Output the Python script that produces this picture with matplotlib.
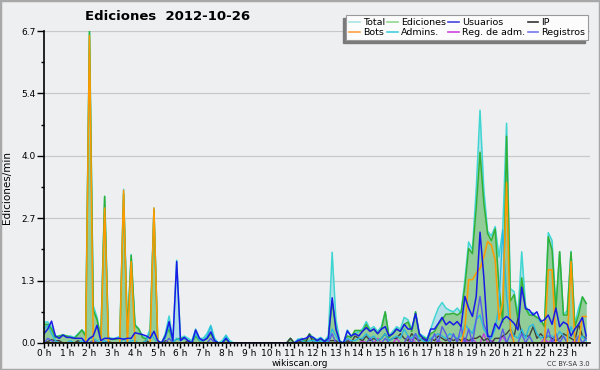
import numpy as np
import matplotlib
matplotlib.use("Agg")
import matplotlib.pyplot as plt
from matplotlib.lines import Line2D
from matplotlib.patches import Rectangle

# edits/min every 10 minutes, 6 values per hour (0 h .. 23 h)
total = [
    0.45, 0.45, 0.35, 0.15, 0.15, 0.18,   0.15, 0.15, 0.12, 0.2, 0.28, 0.2,
    6.7, 0.8, 0.55, 0.12, 3.15, 0.12,     0.1, 0.1, 0.15, 3.3, 0.25, 1.9,
    0.4, 0.3, 0.15, 0.1, 0.3, 2.9,        0.05, 0.0, 0.2, 0.58, 0.05, 1.78,
    0.1, 0.15, 0.1, 0.05, 0.3, 0.1,       0.1, 0.2, 0.38, 0.1, 0.0, 0.05,
    0.17, 0.05, 0, 0, 0, 0,               0, 0, 0, 0, 0, 0,
    0, 0, 0, 0, 0, 0.1,                   0, 0.08, 0.1, 0.05, 0.2, 0.12,
    0.08, 0.12, 0.05, 0.15, 1.95, 0.5,    0.05, 0.0, 0.28, 0.15, 0.2, 0.25,
    0.3, 0.46, 0.3, 0.35, 0.25, 0.35,     0.67, 0.15, 0.25, 0.35, 0.3, 0.55,
    0.5, 0.3, 0.67, 0.2, 0.15, 0.1,       0.3, 0.54, 0.75, 0.87, 0.75, 0.7,
    0.67, 0.75, 0.64, 1.35, 2.17, 2.0,    3.3, 5.0, 3.3, 2.4, 2.3, 2.5,
    1.85, 2.45, 4.72, 1.17, 1.1, 0.6,     1.96, 0.8, 0.65, 0.65, 0.55, 0.45,
    0.4, 2.37, 2.2, 0.75, 1.96, 0.6,      0.7, 1.97, 0.4, 0.75, 0.99, 0.85]

ediciones = [
    0.4, 0.4, 0.3, 0.12, 0.15, 0.17,      0.15, 0.12, 0.1, 0.18, 0.28, 0.15,
    6.7, 0.7, 0.5, 0.1, 3.15, 0.1,        0.08, 0.08, 0.1, 3.2, 0.2, 1.88,
    0.38, 0.3, 0.12, 0.08, 0.2, 2.85,     0.02, 0.0, 0.15, 0.3, 0.02, 0.08,
    0.1, 0.1, 0.05, 0.0, 0.15, 0.05,      0.05, 0.1, 0.2, 0.05, 0.0, 0.0,
    0.08, 0, 0, 0, 0, 0,                  0, 0, 0, 0, 0, 0,
    0, 0, 0, 0, 0, 0.1,                   0, 0.03, 0.08, 0.05, 0.19, 0.08,
    0.05, 0.08, 0.03, 0.1, 0.9, 0.3,      0.03, 0.0, 0.15, 0.12, 0.27, 0.27,
    0.25, 0.4, 0.25, 0.3, 0.2, 0.3,       0.67, 0.12, 0.2, 0.3, 0.25, 0.4,
    0.45, 0.25, 0.67, 0.15, 0.12, 0.08,   0.2, 0.25, 0.4, 0.5, 0.62, 0.62,
    0.64, 0.6, 0.66, 1.21, 2.03, 1.92,    2.9, 4.1, 3.0, 2.35, 2.2, 2.45,
    1.2, 0.45, 4.44, 0.9, 1.04, 0.5,      1.4, 0.75, 0.6, 0.6, 0.55, 0.5,
    0.35, 2.28, 2.0, 0.7, 1.96, 0.6,      0.6, 1.95, 0.35, 0.6, 0.99, 0.85]

usuarios = [
    0.2, 0.3, 0.47, 0.15, 0.1, 0.17,      0.12, 0.12, 0.1, 0.1, 0.1, 0.0,
    0.1, 0.15, 0.38, 0.05, 0.1, 0.1,      0.08, 0.1, 0.1, 0.08, 0.1, 0.1,
    0.22, 0.2, 0.18, 0.15, 0.1, 0.25,     0.05, 0.0, 0.15, 0.46, 0.05, 1.75,
    0.05, 0.12, 0.05, 0.0, 0.28, 0.1,     0.05, 0.1, 0.24, 0.05, 0.0, 0.0,
    0.1, 0, 0, 0, 0, 0,                   0, 0, 0, 0, 0, 0,
    0, 0, 0, 0, 0, 0,                     0, 0.05, 0.08, 0.1, 0.15, 0.12,
    0.05, 0.1, 0.03, 0.1, 0.97, 0.3,      0.03, 0.0, 0.26, 0.15, 0.2, 0.15,
    0.25, 0.33, 0.25, 0.3, 0.2, 0.3,      0.35, 0.15, 0.2, 0.3, 0.25, 0.4,
    0.3, 0.3, 0.63, 0.2, 0.1, 0.05,       0.3, 0.3, 0.42, 0.55, 0.39, 0.46,
    0.39, 0.46, 0.35, 1.0, 0.75, 0.57,    1.0, 2.38, 1.42, 0.14, 0.14, 0.42,
    0.3, 0.5, 0.57, 0.5, 0.42, 0.28,      1.2, 0.74, 0.71, 0.6, 0.67, 0.46,
    0.5, 0.6, 0.4, 0.75, 0.35, 0.45,      0.4, 0.15, 0.3, 0.4, 0.55, 0.15]

ip = [
    0.0, 0.03, 0.07, 0.05, 0.05, 0.0,     0.0, 0.0, 0.0, 0.05, 0.0, 0.0,
    0.0, 0.05, 0.0, 0.0, 0.0, 0.03,       0.0, 0.0, 0.0, 0.0, 0.0, 0.0,
    0.0, 0.0, 0.0, 0.05, 0.0, 0.0,        0.0, 0.0, 0.05, 0.0, 0.0, 0.0,
    0.0, 0.0, 0.05, 0.0, 0.0, 0.0,        0.0, 0.0, 0.0, 0.0, 0.0, 0.0,
    0, 0, 0, 0, 0, 0,                     0, 0, 0, 0, 0, 0,
    0, 0, 0, 0, 0, 0.1,                   0, 0.0, 0.05, 0.0, 0.19, 0.0,
    0.05, 0.0, 0.0, 0.05, 0.05, 0.05,     0.0, 0.0, 0.05, 0.0, 0.15, 0.1,
    0.05, 0.15, 0.05, 0.1, 0.05, 0.1,     0.2, 0.05, 0.1, 0.1, 0.2, 0.1,
    0.05, 0.2, 0.1, 0.05, 0.1, 0.0,       0.1, 0.05, 0.15, 0.1, 0.05, 0.1,
    0.05, 0.1, 0.05, 0.1, 0.05, 0.1,      0.1, 0.15, 0.05, 0.1, 0.0, 0.1,
    0.1, 0.15, 0.2, 0.3, 0.15, 0.53,      0.2, 0.15, 0.15, 0.35, 0.1, 0.2,
    0.1, 0.15, 0.1, 0.05, 0.1, 0.2,       0.15, 0.1, 0.05, 0.4, 0.15, 0.1]

bots = [0.0] * 144
bot_spikes = {12: 6.6, 16: 2.9, 21: 3.28, 23: 1.75, 29: 2.9,
              111: 0.3, 112: 1.36, 113: 1.36, 114: 1.5, 115: 1.6, 116: 1.85,
              117: 2.18, 118: 2.1, 119: 1.78, 120: 0.5, 121: 0.85, 122: 3.45,
              123: 0.3, 133: 1.57, 134: 1.57, 139: 1.75, 142: 0.57, 143: 0.57}
for k, v in bot_spikes.items():
    bots[k] = v

admins = [
    0.3, 0.38, 0.2, 0.05, 0.0, 0.0,       0.0, 0.05, 0.0, 0.0, 0.05, 0.0,
    0.1, 0.1, 0.05, 0.0, 0.05, 0.0,       0, 0, 0, 0.1, 0, 0.05,
    0.05, 0, 0, 0.05, 0.25, 0.1,          0, 0, 0.1, 0.4, 0, 0.1,
    0.05, 0.1, 0.05, 0, 0.2, 0.05,        0.05, 0.15, 0.35, 0.05, 0, 0,
    0.15, 0, 0, 0, 0, 0,                  0, 0, 0, 0, 0, 0,
    0, 0, 0, 0, 0, 0,                     0, 0.08, 0.05, 0, 0.05, 0.05,
    0.03, 0.05, 0, 0.05, 0.3, 0.15,       0, 0, 0.1, 0.05, 0.05, 0.1,
    0.1, 0.2, 0.1, 0.15, 0.05, 0.1,       0.2, 0.05, 0.1, 0.15, 0.1, 0.3,
    0.15, 0.1, 0.2, 0.1, 0.05, 0,         0.1, 0.15, 0.2, 0.15, 0.1, 0.2,
    0.15, 0.1, 0.15, 0.4, 0.3, 0.2,       0.5, 0.6, 0.3, 0.15, 0.1, 0.3,
    0.8, 2.43, 1.0, 0.3, 0.15, 0.1,       0.3, 0.1, 0.35, 0.4, 0.2, 0.1,
    0.15, 0.15, 0.15, 0.1, 0.25, 0.15,    0.05, 0.35, 0.1, 0.05, 0.15, 0.05]

reg_adm = [0.0] * 144
for k, v in {80: 0.1, 84: 0.05, 88: 0.1, 93: 0.1, 97: 0.1, 104: 0.05,
             111: 0.08, 113: 0.1, 116: 0.2, 118: 0.05, 121: 0.15,
             132: 0.1, 134: 0.08, 140: 0.05}.items():
    reg_adm[k] = v

registros = [0.0] * 144
for k, v in {1: 0.1, 2: 0.05, 13: 0.05, 33: 0.1, 44: 0.1, 76: 0.2, 86: 0.1,
             90: 0.1, 96: 0.15, 98: 0.2, 103: 0.2, 105: 0.35, 106: 0.2,
             108: 0.2, 110: 0.35, 112: 0.3, 114: 0.5, 115: 1.0, 116: 0.4,
             117: 0.2, 121: 0.3, 123: 0.2, 126: 0.2, 128: 0.15, 133: 0.3,
             135: 0.2, 137: 0.15, 141: 0.15, 143: 0.1}.items():
    registros[k] = v

hours = np.arange(144) / 6.0
bg = "#eeeff1"

fig = plt.figure(figsize=(6, 3.7), dpi=100, facecolor=bg)
fig.patches.append(Rectangle((0, 0), 1, 1, transform=fig.transFigure,
                             fill=False, edgecolor="#a8a8a8", linewidth=2.5))
ax = fig.add_axes([0.0733, 0.073, 0.91, 0.843], facecolor=bg)

ax.fill_between(hours, total, color="#a6dbe6", alpha=0.8, lw=0)
ax.plot(hours, total, color="#3fd6d2", lw=1.1)
ax.fill_between(hours, ediciones, color="#8fca8f", alpha=0.9, lw=0)
ax.plot(hours, ediciones, color="#33b033", lw=1.1)
ax.plot(hours, reg_adm, color="#c040e0", lw=1.0)
ax.plot(hours, ip, color="#404040", lw=1.0)
ax.plot(hours, admins, color="#2ab8e0", lw=1.0)
ax.plot(hours, registros, color="#5a5ae8", lw=1.0)
ax.plot(hours, bots, color="#ff9a00", lw=1.1)
ax.plot(hours, usuarios, color="#1a1ae6", lw=1.1)

ymax = 6.7
ax.set_xlim(0, 24)
ax.set_ylim(0, ymax)
yt = [ymax * k / 5 for k in range(6)]
ax.set_yticks(yt)
ax.set_yticklabels(["%.1f" % v for v in yt])
ax.set_yticks([ymax * (k + 0.5) / 5 for k in range(5)], minor=True)
ax.set_xticks(range(24))
ax.set_xticklabels(["%d h" % h for h in range(24)])
ax.set_xticks(np.arange(0, 24, 1 / 6.0), minor=True)
ax.grid(axis="y", color="#c8c8c8", lw=0.9)
ax.set_axisbelow(True)
for s in ["top", "right"]:
    ax.spines[s].set_visible(False)
ax.spines["left"].set_linewidth(1.2)
ax.spines["bottom"].set_linewidth(1.2)
ax.tick_params(axis="y", which="major", labelsize=6.5, length=5, width=1, pad=1)
ax.tick_params(axis="x", which="major", labelsize=6.5, length=3.5, width=1, pad=0.5)
ax.tick_params(axis="both", which="minor", length=2.5, width=1)
ax.set_ylabel("Ediciones/min", fontsize=7.5, labelpad=7)

fig.text(0.142, 0.946, "Ediciones  2012-10-26", fontsize=9.5, weight="bold")
fig.text(0.5, 0.012, "wikiscan.org", fontsize=6.5, ha="center")
fig.text(0.983, 0.012, "CC BY-SA 3.0", fontsize=4.8, ha="right", color="#333333")

names = ["Total", "Bots", "Ediciones", "Admins.", "Usuarios", "Reg. de adm.", "IP", "Registros"]
colors = ["#a8e4e4", "#ffa040", "#90d890", "#44ccdd", "#4444dd", "#cc44dd", "#333333", "#7777ee"]
handles = [Line2D([], [], color=c, lw=1.2) for c in colors]
leg = fig.legend(handles, names, ncol=4, loc="upper right", bbox_to_anchor=(0.988, 0.972),
                 fontsize=6.8, frameon=True, fancybox=False,
                 handlelength=1.1, handletextpad=0.35, columnspacing=0.25,
                 labelspacing=0.12, borderpad=0.3, framealpha=1)
leg.get_frame().set_edgecolor("#999999")
leg.get_frame().set_linewidth(0.8)
leg.get_frame().set_facecolor("#fcfcfc")

# shadow to the lower left, like the reference
fig.canvas.draw()
bb = leg.get_window_extent().transformed(fig.transFigure.inverted())
dx, dy = 3 / 600, 3 / 370
fig.patches.append(Rectangle((bb.x0 - dx, bb.y0 - dy), bb.width, bb.height,
                             transform=fig.transFigure, color="#7a7a7a", zorder=4))

fig.savefig("out.png", dpi=100, facecolor=bg)
